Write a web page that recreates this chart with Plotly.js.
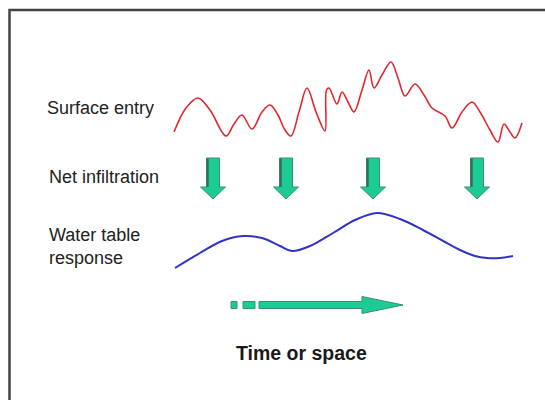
<!DOCTYPE html>
<html>
<head>
<meta charset="utf-8">
<script src="https://cdn.plot.ly/plotly-3.0.1.min.js"></script>
<style>
html,body{margin:0;padding:0;background:#fff;}
#chart{width:545px;height:400px;}
</style>
</head>
<body>
<div id="chart"></div>
<script>
// ---- data (pixel-like units) ----
const surfaceX = [174,186,198,210,226,234,242,252,262,270,278,285,291,299,307,316,325,326.5,329,337,342,348,354,362,369,374,382,391,398,405,415,424,432,445,452,462,472,480,490,498,504,510,515,522];
const surfaceY = [132,108,98,110,136,124,115,129,112,105,115,130,136,112,88,112,131,90,88,104,92,102,112,90,70,88,75,62,78,96,84,95,108,116,128,112,102,112,130,142,124,132,138,123];

const waterX = [175,200,222,243,262,280,292,310,333,355,377,400,423,445,460,475,487,500,513];
const waterY = [268,253,241,236,238,246,251,246,233,220,213,219,230,242,250,256,258,258,256];

const infiltrationArrowX = [213,286,373,477];
const infiltrationArrowTop = 158;

const timeArrowY = 305;
const timeDashes = [[231,237],[243,255]];
const timeShaft = [259,362];
const timeTip = 403;

const labels = ["Surface entry","Net infiltration","Water table<br>response","Time or space"];
const labelX = [45,47,47,301];
const labelY = [108,177,246,353];

// ---- build traces ----
const green = '#1dcc95';
const greenEdge = '#3b8f6e';
const traces = [];

traces.push({x: surfaceX, y: surfaceY, mode:'lines', line:{color:'#e3262e', width:1.6, shape:'spline', smoothing:1}, hoverinfo:'skip'});
traces.push({x: waterX, y: waterY, mode:'lines', line:{color:'#3333c2', width:2, shape:'spline', smoothing:1}, hoverinfo:'skip'});

// vertical arrows
const sw = 6.5, hw = 12.5, shaftLen = 29, headLen = 12;
infiltrationArrowX.forEach(cx => {
  const t = infiltrationArrowTop, h = t + shaftLen, tip = h + headLen;
  traces.push({
    x:[cx-sw, cx+sw, cx+sw, cx+hw, cx, cx-hw, cx-sw, cx-sw],
    y:[t, t, h, h, tip, h, h, t],
    mode:'lines', fill:'toself', fillcolor:green,
    line:{color:greenEdge, width:1}, hoverinfo:'skip'
  });
  traces.push({x:[cx-sw+1.2, cx-sw+1.2], y:[t+0.5, h], mode:'lines', line:{color:'#2f6f55', width:2}, hoverinfo:'skip'});
});

// horizontal arrow
const hh = 3.5, headH = 8.5;
timeDashes.forEach(d => {
  traces.push({
    x:[d[0], d[1], d[1], d[0], d[0]],
    y:[timeArrowY-hh, timeArrowY-hh, timeArrowY+hh, timeArrowY+hh, timeArrowY-hh],
    mode:'lines', fill:'toself', fillcolor:green, line:{color:greenEdge, width:1}, hoverinfo:'skip'
  });
});
traces.push({
  x:[timeShaft[0], timeShaft[1], timeShaft[1], timeTip, timeShaft[1], timeShaft[1], timeShaft[0], timeShaft[0]],
  y:[timeArrowY-hh, timeArrowY-hh, timeArrowY-headH, timeArrowY, timeArrowY+headH, timeArrowY+hh, timeArrowY+hh, timeArrowY-hh],
  mode:'lines', fill:'toself', fillcolor:green, line:{color:greenEdge, width:1}, hoverinfo:'skip'
});

const annotations = labels.map((t,i) => ({
  x: labelX[i], y: labelY[i], xref:'x', yref:'y', text:t, showarrow:false,
  xanchor: i===3 ? 'center' : 'left', yanchor:'middle', align:'left',
  font:{family:'Liberation Sans, Arial, sans-serif', size: i===3 ? 19.5 : 18, color: i===3 ? '#1a1a1a' : '#222', weight: i===3 ? 'bold' : 'normal'}
}));

const layout = {
  width:545, height:400,
  margin:{l:0,r:0,t:0,b:0},
  paper_bgcolor:'#fff', plot_bgcolor:'#fff',
  showlegend:false,
  xaxis:{range:[0,545], visible:false, fixedrange:true},
  yaxis:{range:[400,0], visible:false, fixedrange:true},
  shapes:[{type:'rect', xref:'x', yref:'y', x0:9.5, y0:10, x1:600, y1:450, line:{color:'#454545', width:2.5}}],
  annotations: annotations
};

Plotly.newPlot('chart', traces, layout, {staticPlot:true, displayModeBar:false});
</script>
</body>
</html>
